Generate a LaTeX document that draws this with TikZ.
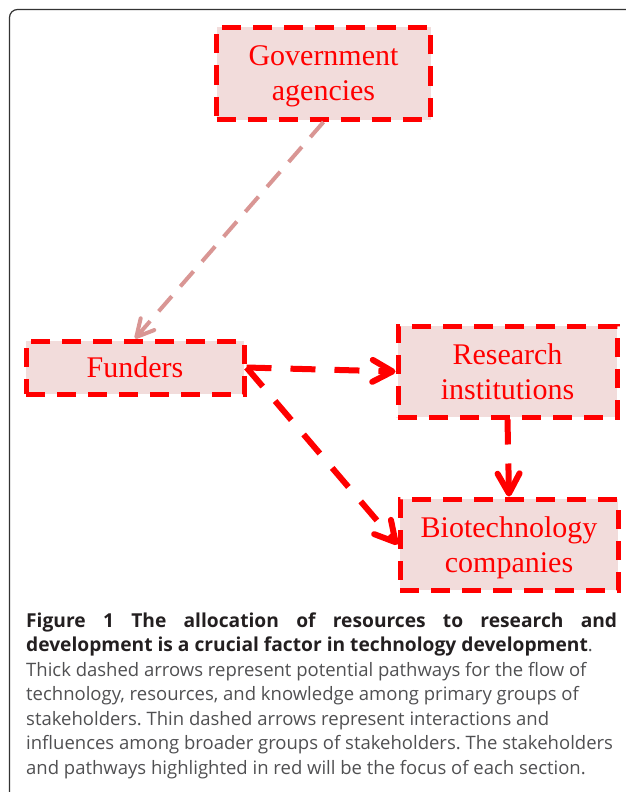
\documentclass[tikz,border=0pt]{standalone}
\usepackage{fontspec}
\setmainfont{Liberation Serif}
\newfontfamily\capfont{Open Sans}
\usepackage{xcolor}
\usetikzlibrary{arrows.meta, positioning}

\definecolor{boxred}{HTML}{FF0000}
\definecolor{boxfill}{HTML}{F2DCDB}
\definecolor{thinpink}{HTML}{D99694}
\definecolor{capgray}{HTML}{505052}
\definecolor{capblack}{HTML}{231F20}
\definecolor{framegray}{HTML}{333333}

\begin{document}
\frenchspacing
\begin{tikzpicture}[x=1pt, y=-1pt,
        stakeholder/.style={draw=boxred, fill=boxfill, line width=5pt,
            dash pattern=on 19pt off 12pt, inner sep=0pt, align=center,
            text=boxred, text depth=0pt,
            font=\fontsize{30}{35}\selectfont},
        mainflow/.style={draw=boxred, line width=6pt,
            dash pattern=on 25pt off 19pt,
            -{Straight Barb[length=20pt, width=22pt, round]}},
        sideflow/.style={draw=thinpink, line width=4pt,
            dash pattern=on 20pt off 13pt,
            -{Straight Barb[length=17pt, width=18pt, round]}},
        caption/.style={inner sep=0pt, text width=591pt, align=justify,
            text=capgray, font=\capfont\fontsize{18.5}{24.5}\selectfont}]

        \useasboundingbox (0,0) rectangle (625,792);
        \draw[framegray, line width=1.2pt, rounded corners=8pt]
            (9.5,800) -- (9.5,9.5) -- (640,9.5);

        % stakeholders
        \node[stakeholder, minimum width=214pt, minimum height=92pt]
            (gov) at (323.5,73.5) {Government\\agencies};
        \node[stakeholder, minimum width=218pt, minimum height=53pt]
            (fund) at (135,367.5) {Funders};
        \node[stakeholder, minimum width=219pt, minimum height=91pt]
            (res) at (507.5,371.5) {Research\\institutions};
        \node[stakeholder, minimum width=218pt, minimum height=91pt]
            (bio) at (509,544.5) {Biotechnology\\companies};

        % pathways
        \draw[sideflow] (gov.south) -- (fund.north);
        \draw[mainflow] (fund.east) -- (res.west);
        \draw[mainflow] (fund.east) -- (bio.west);
        \draw[mainflow] (res.south) -- (bio.north);

        \node[caption, anchor=north west] (cap) at (26,612.5)
            {{\bfseries\color{capblack}\fontsize{19.2}{24.5}\selectfont
            Figure 1 The allocation of resources to research and\linebreak
            development is a crucial factor in technology development}.\\
            Thick dashed arrows represent potential pathways for the flow of\\
            technology, resources, and knowledge among primary groups of\\
            stakeholders. Thin dashed arrows represent interactions and\\
            influences among broader groups of stakeholders. The stakeholders\\
            and pathways highlighted in red will be the focus of each section.};
\end{tikzpicture}
\end{document}
